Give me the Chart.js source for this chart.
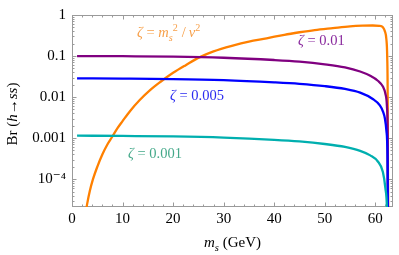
<!DOCTYPE html>
<html>
<head>
<meta charset="utf-8">
<script src="https://cdn.jsdelivr.net/npm/chart.js@4.4.0/dist/chart.umd.min.js"></script>
<style>
  html, body { margin: 0; padding: 0; background: #fff; }
</style>
</head>
<body>
<canvas id="myChart" width="399" height="255"></canvas>
<script>
// values (m_s in GeV, Br)
const massZeta01 = [1, 10, 20, 30, 40, 45, 50, 54, 57, 59, 60.5, 61.5, 62, 62.3, 62.45, 62.55];
const brZeta01 = [0.1, 0.099, 0.097, 0.091, 0.08, 0.073, 0.063, 0.053, 0.042, 0.033, 0.025, 0.018, 0.012, 0.006, 0.001, 0.000001];

const massZeta005 = [1, 10, 20, 30, 40, 45, 50, 54, 57, 59.5, 60.9, 61.5, 61.9, 62.2, 62.4, 62.55];
const brZeta005 = [0.0287, 0.0283, 0.0275, 0.0258, 0.0228, 0.021, 0.0185, 0.0158, 0.0128, 0.009, 0.0063, 0.0045, 0.003, 0.0015, 0.0004, 0.000001];

const massZeta001 = [1, 10, 20, 30, 40, 45, 50, 54, 57, 59, 60.5, 61.5, 62, 62.3, 62.5];
const brZeta001 = [0.00115, 0.00113, 0.0011, 0.00103, 0.00091, 0.00083, 0.00072, 0.00061, 0.00049, 0.00038, 0.00027, 0.00015, 0.00006, 0.00002, 0.000001];

const massZetaMs = [2.6, 3, 3.5, 4.15, 5, 6, 7, 7.9, 9, 10, 11.5, 13.4, 15.5, 17.4, 20, 22.5, 25.3, 28, 31.8, 35, 38.5, 42, 45, 48, 51.6, 55, 57.5, 59.5, 60.8, 61.5, 61.9, 62.2, 62.35, 62.45, 62.55];
const brZetaMs = [0.000013, 0.000025, 0.00005, 0.0001, 0.0002, 0.0004, 0.0007, 0.00105, 0.00175, 0.0026, 0.0046, 0.0085, 0.015, 0.023, 0.039, 0.06, 0.094, 0.13, 0.18, 0.225, 0.27, 0.33, 0.38, 0.43, 0.48, 0.53, 0.55, 0.555, 0.545, 0.5, 0.4, 0.25, 0.1, 0.01, 0.000001];

const xTicks = [0, 10, 20, 30, 40, 50, 60];
const yTickValues = [0.0001, 0.001, 0.01, 0.1, 1];
const yTickLabels = ['10\u207B\u2074', '0.001', '0.01', '0.1', '1'];

const serif = '"Liberation Serif", "DejaVu Serif", serif';

const toPoints = (xs, ys) => xs.map((x, i) => ({ x: x, y: ys[i] }));

// frame with inward major/minor ticks on all four sides
const framePlugin = {
  id: 'frame',
  beforeDatasetsDraw(chart) {
    const { ctx, chartArea: a, scales } = chart;
    ctx.save();
    ctx.strokeStyle = '#9a9a9a';
    ctx.lineWidth = 1;
    ctx.strokeRect(a.left + 0.5, a.top + 0.5, a.right - a.left - 1, a.bottom - a.top - 1);
    ctx.beginPath();
    for (let v = 0; v <= 63; v += 2) {
      const px = Math.round(scales.x.getPixelForValue(v)) + 0.5;
      const len = v % 10 === 0 ? 4.5 : 2.5;
      ctx.moveTo(px, a.bottom); ctx.lineTo(px, a.bottom - len);
      ctx.moveTo(px, a.top); ctx.lineTo(px, a.top + len);
    }
    for (let e = -5; e <= 0; e++) {
      for (let k = 1; k <= 9; k++) {
        const v = k * Math.pow(10, e);
        if (v < scales.y.min || v > scales.y.max) continue;
        const py = Math.round(scales.y.getPixelForValue(v)) + 0.5;
        const len = k === 1 ? 4.5 : 2.5;
        ctx.moveTo(a.left, py); ctx.lineTo(a.left + len, py);
        ctx.moveTo(a.right, py); ctx.lineTo(a.right - len, py);
      }
    }
    ctx.stroke();
    ctx.restore();
  }
};

function drawRich(ctx, parts, x, y, size, color) {
  ctx.fillStyle = color;
  ctx.textBaseline = 'alphabetic';
  let cx = x;
  parts.forEach(p => {
    const fs = p.sub || p.sup ? size * 0.7 : size;
    ctx.font = (p.i ? 'italic ' : '') + fs + 'px ' + serif;
    const dy = p.sub ? size * 0.25 : (p.sup ? -size * 0.4 : 0);
    ctx.fillText(p.t, cx, y + dy);
    cx += ctx.measureText(p.t).width + (p.gap || 0);
  });
  return cx - x;
}

function richWidth(ctx, parts, size) {
  let w = 0;
  parts.forEach(p => {
    const fs = p.sub || p.sup ? size * 0.7 : size;
    ctx.font = (p.i ? 'italic ' : '') + fs + 'px ' + serif;
    w += ctx.measureText(p.t).width + (p.gap || 0);
  });
  return w;
}

const labelsPlugin = {
  id: 'labels',
  afterDraw(chart) {
    const ctx = chart.ctx;
    ctx.save();
    drawRich(ctx, [{ t: '\u03B6', i: true }, { t: ' = ' }, { t: 'm', i: true }, { t: 's', i: true, sub: true }, { t: '2', sup: true, gap: 4 }, { t: '/', gap: 3 }, { t: 'v', i: true }, { t: '2', sup: true }], 137, 37, 14.5, '#f7a04a');
    drawRich(ctx, [{ t: '\u03B6', i: true }, { t: ' = 0.01' }], 298, 45, 14.5, '#8a2a9e');
    drawRich(ctx, [{ t: '\u03B6', i: true }, { t: ' = 0.005' }], 170, 100, 14.5, '#2b2bf0');
    drawRich(ctx, [{ t: '\u03B6', i: true }, { t: ' = 0.001' }], 128, 158, 14.5, '#45a98a');

    // axis titles
    const xt = [{ t: 'm', i: true }, { t: 's', i: true, sub: true }, { t: ' (GeV)' }];
    const a = chart.chartArea;
    const xw = richWidth(ctx, xt, 15);
    drawRich(ctx, xt, (a.left + a.right) / 2 - xw / 2, 247, 15, '#000');

    const yt = [{ t: 'Br (' }, { t: 'h', i: true }, { t: '\u2192' }, { t: 'ss', i: true }, { t: ')' }];
    const yw = richWidth(ctx, yt, 15);
    ctx.translate(17, 114);
    ctx.rotate(-Math.PI / 2);
    drawRich(ctx, yt, -yw / 2, 0, 15, '#000');
    ctx.restore();
  }
};

const line = (data, color) => ({
  data: data,
  borderColor: color,
  borderWidth: 2.3,
  pointRadius: 0,
  showLine: true,
  fill: false,
  cubicInterpolationMode: 'monotone'
});

new Chart(document.getElementById('myChart'), {
  type: 'scatter',
  data: {
    datasets: [
      line(toPoints(massZeta001, brZeta001), '#00afaf'),
      line(toPoints(massZeta005, brZeta005), '#0000ff'),
      line(toPoints(massZeta01, brZeta01), '#800080'),
      line(toPoints(massZetaMs, brZetaMs), '#ff8000')
    ]
  },
  options: {
    responsive: false,
    devicePixelRatio: 1,
    animation: false,
    layout: { padding: { left: 0, right: 6, top: 7, bottom: 0 } },
    plugins: { legend: { display: false }, tooltip: { enabled: false } },
    scales: {
      x: {
        type: 'linear',
        min: 0,
        max: 63.5,
        afterBuildTicks: s => { s.ticks = xTicks.map(v => ({ value: v })); },
        afterFit: s => { s.height = 48; },
        grid: { display: false, drawTicks: false },
        border: { display: false },
        ticks: { color: '#000', padding: 3, maxRotation: 0, font: { family: serif, size: 15 } }
      },
      y: {
        type: 'logarithmic',
        min: 0.000021,
        max: 1,
        afterBuildTicks: s => { s.ticks = yTickValues.map(v => ({ value: v })); },
        afterFit: s => { s.width = 72; },
        grid: { display: false, drawTicks: false },
        border: { display: false },
        ticks: {
          color: '#000',
          padding: 6,
          font: { family: serif, size: 15 },
          callback: v => yTickLabels[yTickValues.indexOf(v)]
        }
      }
    }
  },
  plugins: [framePlugin, labelsPlugin]
});
</script>
</body>
</html>
